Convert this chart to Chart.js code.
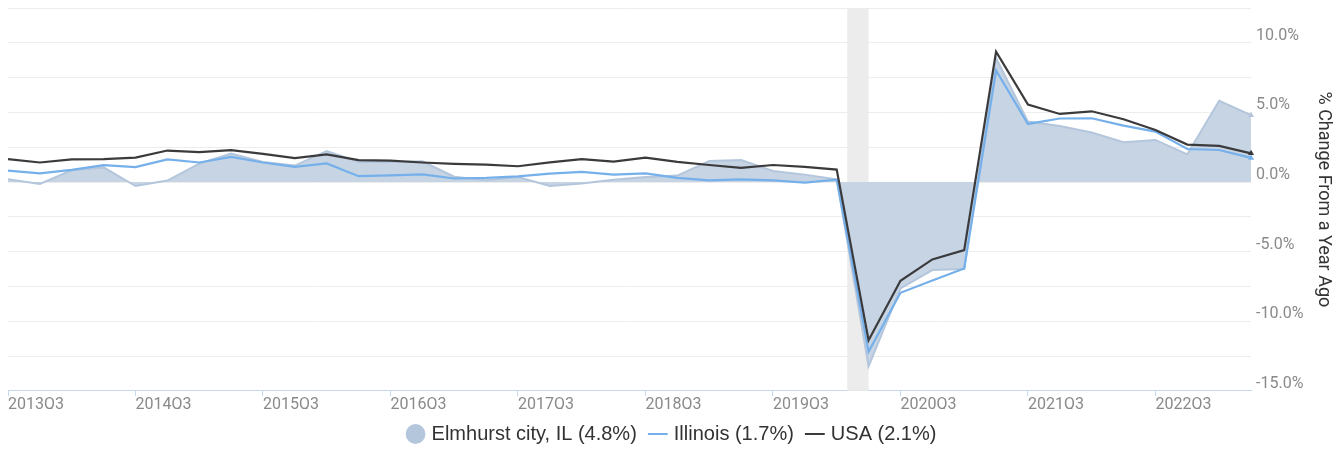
<!DOCTYPE html>
<html>
<head>
<meta charset="utf-8">
<script src="https://cdn.jsdelivr.net/npm/chart.js@4"></script>
<style>
  html, body { margin: 0; padding: 0; background: #fff; }
  #wrap { width: 1344px; height: 449px; }
</style>
</head>
<body>
<div id="wrap"><canvas id="growthChart"></canvas></div>
<script>
// Quarters shown on the x axis
const quarters = [
  "2013Q3", "2013Q4", "2014Q1", "2014Q2", "2014Q3", "2014Q4", "2015Q1", "2015Q2",
  "2015Q3", "2015Q4", "2016Q1", "2016Q2", "2016Q3", "2016Q4", "2017Q1", "2017Q2",
  "2017Q3", "2017Q4", "2018Q1", "2018Q2", "2018Q3", "2018Q4", "2019Q1", "2019Q2",
  "2019Q3", "2019Q4", "2020Q1", "2020Q2", "2020Q3", "2020Q4", "2021Q1", "2021Q2",
  "2021Q3", "2021Q4", "2022Q1", "2022Q2", "2022Q3", "2022Q4", "2023Q1", "2023Q2",
];

// % change from a year ago
const elmhurst = [
  0.19, -0.14, 0.84, 1.05, -0.29, 0.1, 1.32, 2.04, 1.44, 1.18,
  2.23, 1.44, 1.44, 1.49, 0.38, 0.12, 0.36, -0.29, -0.1, 0.17,
  0.36, 0.46, 1.51, 1.58, 0.79, 0.53, 0.19, -13.24, -7.65, -6.33,
  -6.25, 8.9, 4.34, 4.03, 3.55, 2.85, 3.02, 1.99, 5.83, 4.8,
];
const illinois = [
  0.82, 0.62, 0.87, 1.21, 1.07, 1.62, 1.4, 1.8, 1.4, 1.09,
  1.33, 0.42, 0.48, 0.55, 0.25, 0.29, 0.41, 0.6, 0.73, 0.53,
  0.62, 0.29, 0.12, 0.19, 0.12, -0.05, 0.17, -12.2, -7.96, -7.07,
  -6.21, 8.01, 4.17, 4.56, 4.58, 4.05, 3.62, 2.37, 2.3, 1.73,
];
const usa = [
  1.64, 1.4, 1.62, 1.64, 1.75, 2.26, 2.14, 2.29, 2.02, 1.72,
  1.99, 1.57, 1.54, 1.4, 1.3, 1.25, 1.13, 1.41, 1.65, 1.46,
  1.75, 1.44, 1.22, 1.01, 1.22, 1.08, 0.89, -11.37, -7.1, -5.56,
  -4.89, 9.37, 5.56, 4.89, 5.08, 4.51, 3.74, 2.69, 2.59, 2.06,
];

// Recession band, in quarter index units (Feb 2020 - Apr 2020)
const recession = [26.33, 27];

const lastIdx = quarters.length - 1;

// Shade the recession behind the lines
const recessionBand = {
  id: "recessionBand",
  beforeDatasetsDraw(chart) {
    const { ctx, chartArea, scales } = chart;
    const x0 = scales.x.getPixelForValue(recession[0]);
    const x1 = scales.x.getPixelForValue(recession[1]);
    ctx.save();
    ctx.fillStyle = "#ececec";
    ctx.fillRect(x0, chartArea.top, x1 - x0, chartArea.bottom - chartArea.top);
    ctx.restore();
  },
};

function endPoint(ctx) {
  return ctx.dataIndex === lastIdx ? 3.5 : 0;
}

const ctx = document.getElementById("growthChart").getContext("2d");
const growthChart = new Chart(ctx, {
  type: "line",
  data: {
    labels: quarters,
    datasets: [
      {
        label: "Elmhurst city, IL (4.8%)",
        data: elmhurst,
        borderColor: "#b4c6dc",
        backgroundColor: "#c6d4e4",
        borderWidth: 2,
        fill: "origin",
        pointRadius: endPoint,
        pointStyle: "triangle",
        pointBackgroundColor: "#b4c6dc",
        pointBorderWidth: 0,
        order: 3,
      },
      {
        label: "Illinois (1.7%)",
        data: illinois,
        borderColor: "#76b0ea",
        backgroundColor: "#76b0ea",
        borderWidth: 2.2,
        fill: false,
        pointRadius: endPoint,
        pointStyle: "triangle",
        pointBorderWidth: 0,
        order: 2,
      },
      {
        label: "USA (2.1%)",
        data: usa,
        borderColor: "#3b3b3d",
        backgroundColor: "#3b3b3d",
        borderWidth: 2.2,
        fill: false,
        pointRadius: endPoint,
        pointStyle: "triangle",
        pointBorderWidth: 0,
        order: 1,
      },
    ],
  },
  options: {
    responsive: true,
    maintainAspectRatio: false,
    animation: false,
    layout: { padding: { left: 8, top: 8, right: 6, bottom: -5 } },
    elements: { line: { tension: 0 } },
    plugins: {
      tooltip: { enabled: false },
      legend: {
        position: "bottom",
        labels: {
          usePointStyle: true,
          boxWidth: 12,
          boxHeight: 14,
          padding: 15,
          color: "#333",
          font: { family: "'Liberation Sans', Arial", size: 20, lineHeight: 1 },
          sort: (a, b) => a.datasetIndex - b.datasetIndex,
          generateLabels(chart) {
            const items = Chart.defaults.plugins.legend.labels.generateLabels(chart);
            items.forEach((item) => {
              if (item.datasetIndex === 0) {
                item.pointStyle = "circle";
                item.fillStyle = "#b4c6dc";
                item.strokeStyle = "#b4c6dc";
                item.lineWidth = 0;
              } else {
                item.pointStyle = "line";
                item.lineWidth = 2;
              }
            });
            return items;
          },
        },
      },
    },
    scales: {
      x: {
        ticks: {
          autoSkip: false,
          maxRotation: 0,
          align: "start",
          padding: 0,
          color: "#8a8a8a",
          font: { family: "Roboto", size: 16, lineHeight: 0.45 },
          callback(value, index) {
            return index % 4 === 0 ? quarters[index] : "";
          },
        },
        grid: {
          drawOnChartArea: false,
          drawTicks: true,
          tickLength: 11,
          // only the first 5px of each tick mark is visible
          tickBorderDash: [5, 30],
          color: (c) => (c.index % 4 === 0 ? "#c9d7ea" : "rgba(0,0,0,0)"),
        },
        border: { display: true, color: "#c9d7ea" },
      },
      y: {
        position: "right",
        min: -15,
        max: 12.5,
        afterFit(scale) {
          // no extra room for the (empty) end labels
          scale.paddingTop = 0;
          scale.paddingBottom = 0;
        },
        ticks: {
          stepSize: 2.5,
          padding: 5,
          labelOffset: -7,
          color: "#8a8a8a",
          font: { family: "Roboto", size: 16 },
          callback(value) {
            return Math.abs(value % 5) < 0.001 ? value.toFixed(1) + "%" : "";
          },
        },
        grid: { color: "#ededed", drawTicks: false },
        border: { display: false },
        title: {
          display: true,
          text: "% Change From a Year Ago",
          color: "#333",
          font: { family: "Roboto", size: 18 },
        },
      },
    },
  },
  plugins: [recessionBand],
});
</script>
</body>
</html>
